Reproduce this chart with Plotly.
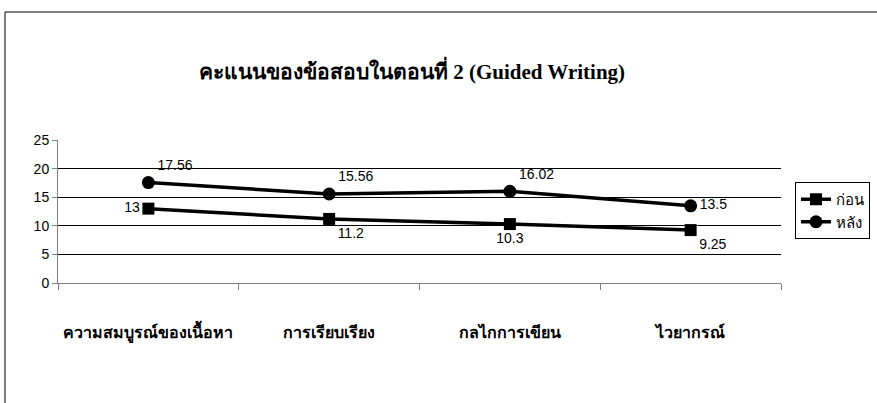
import plotly.graph_objects as go

categories = ["ความสมบูรณ์ของเนื้อหา", "การเรียบเรียง", "กลไกการเขียน", "ไวยากรณ์"]
before = [13, 11.2, 10.3, 9.25]
after = [17.56, 15.56, 16.02, 13.5]
series_names = ["ก่อน", "หลัง"]
title_text = "คะแนนของข้อสอบในตอนที่ 2 (Guided Writing)"

W, H = 877, 403
# target plot area in window pixels: x 58..781, y 140..283
L, R, T, B = 58, W - 781, 140, H - 283
pw, ph = W - L - R, H - T - B

def px_x(p):
    return (p - L) / pw

def px_y(p):
    return (H - B - p) / ph

fig = go.Figure()
fig.add_trace(go.Scatter(
    x=categories, y=before, name=series_names[0], mode="lines+markers+text",
    line=dict(color="black", width=3.5), marker=dict(symbol="square", size=12, color="black"),
    text=[str(v) for v in before],
    textposition=["middle left", "bottom right", "bottom center", "bottom right"],
    textfont=dict(family="Liberation Sans, Arial", size=14, color="black"),
))
fig.add_trace(go.Scatter(
    x=categories, y=after, name=series_names[1], mode="lines+markers+text",
    line=dict(color="black", width=3.5), marker=dict(symbol="circle", size=13, color="black"),
    text=[str(v) for v in after],
    textposition=["top right", "top right", "top right", "middle right"],
    textfont=dict(family="Liberation Sans, Arial", size=14, color="black"),
))

fig.update_layout(
    width=W, height=H,
    margin=dict(l=L, r=R, t=T, b=B, autoexpand=False),
    paper_bgcolor="white", plot_bgcolor="white",
    title=dict(text="<b>" + title_text + "</b>", x=412 / W, xanchor="center",
               y=1 - 72 / H, yanchor="middle",
               font=dict(family="Liberation Serif, Times New Roman, serif", size=21, color="black")),
    showlegend=True,
    legend=dict(x=795 / W, y=1 - 182 / H, xref="container", yref="container",
                xanchor="left", yanchor="top",
                bordercolor="black", borderwidth=1, bgcolor="white",
                font=dict(family="Liberation Sans, Arial", size=15, color="black"),
                tracegroupgap=0, itemwidth=30),
    xaxis=dict(
        range=[-0.5, 3.5],
        showline=True, linecolor="#808080", linewidth=1,
        ticks="outside", tickson="boundaries", ticklen=6, tickcolor="#808080",
        showgrid=False, ticklabelstandoff=35,
        tickvals=categories, ticktext=["<b>" + c + "</b>" for c in categories],
        tickfont=dict(family="Liberation Serif, Times New Roman, serif", size=16, color="black"),
    ),
    yaxis=dict(
        range=[0, 25], dtick=5, showline=True, linecolor="#808080", linewidth=1,
        ticks="outside", ticklen=5, tickcolor="#808080",
        showgrid=True, gridcolor="black", gridwidth=1, zeroline=False,
        tickfont=dict(family="Liberation Sans, Arial", size=14, color="black"),
    ),
    shapes=[dict(type="rect", xref="paper", yref="paper",
                 x0=px_x(5), x1=px_x(900), y0=px_y(430), y1=px_y(12),
                 line=dict(color="black", width=1), layer="below")],
)

fig.write_html("out.html", config={"displayModeBar": False},
               post_script="document.body.style.margin='0';")
